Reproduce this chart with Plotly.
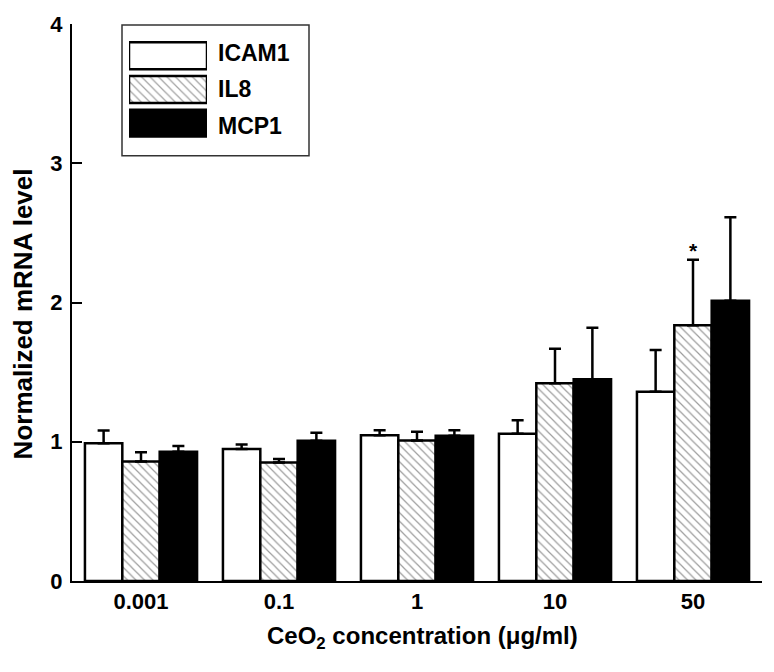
import plotly.graph_objects as go

categories = ["0.001", "0.1", "1", "10", "50"]
series_names = ["ICAM1", "IL8", "MCP1"]

icam1 = [0.99, 0.948, 1.047, 1.057, 1.359]
icam1_err = [0.09, 0.033, 0.036, 0.097, 0.30]
il8 = [0.858, 0.851, 1.009, 1.42, 1.837]
il8_err = [0.066, 0.026, 0.062, 0.247, 0.47]
mcp1 = [0.929, 1.007, 1.043, 1.449, 2.012]
mcp1_err = [0.04, 0.057, 0.04, 0.37, 0.60]

y_ticks = [0, 1, 2, 3, 4]

FONT = "Liberation Sans, Arial, Helvetica, sans-serif"

fills = ["white", "white", "black"]
patterns = ["", "\\", ""]

fig = go.Figure()
for name, vals, errs, fill, pat in zip(series_names, [icam1, il8, mcp1],
                                       [icam1_err, il8_err, mcp1_err], fills, patterns):
    fig.add_trace(go.Bar(
        x=categories, y=vals, name=name,
        marker=dict(color=fill, line=dict(color="black", width=2.5),
                    pattern=dict(shape=pat, fgcolor="#3a3a3a", size=6, solidity=0.2)),
        error_y=dict(type="data", array=errs, arrayminus=[0] * len(errs), symmetric=False,
                     color="black", thickness=2.5, width=6),
        showlegend=False,
    ))

# custom legend swatches on a separate small axis pair
fig.add_trace(go.Bar(
    x=[1, 1, 1], y=series_names, orientation="h", width=0.8,
    marker=dict(color=fills, line=dict(color="black", width=2.5),
                pattern=dict(shape=patterns, fgcolor="#3a3a3a", size=6, solidity=0.2)),
    xaxis="x2", yaxis="y2", showlegend=False, hoverinfo="skip",
))

# page body has an 8px margin; keep the figure inside the 774x672 window
PAGE = 8
W, H = 774 - 2 * PAGE, 672 - 2 * PAGE
L, R, T, B = 72 - PAGE, 4, 19 - PAGE, 83
pw, ph = W - L - R, H - T - B


def px(xp):
    return (xp - PAGE - L) / pw


def py(yp):
    return (H - B - (yp - PAGE)) / ph


annotations = []
legend_y = [48, 85, 122]
for name, yy in zip(series_names, legend_y):
    annotations.append(dict(
        x=px(216), y=py(yy), xref="paper", yref="paper", text="<b>%s</b>" % name,
        showarrow=False, xanchor="left", yanchor="middle",
        font=dict(family=FONT, size=23, color="black"),
    ))

annotations.append(dict(
    x=4, y=il8[4] + il8_err[4], xref="x", yref="y", text="<b>*</b>",
    showarrow=False, xanchor="center", yanchor="middle", yshift=9,
    font=dict(family=FONT, size=21, color="black"),
))

annotations.append(dict(
    x=px(23), y=py(312), xref="paper", yref="paper",
    text="<b>Normalized mRNA level</b>", textangle=-90, showarrow=False,
    xanchor="center", yanchor="middle",
    font=dict(family=FONT, size=26, color="black"),
))

annotations.append(dict(
    x=px(423), y=py(638), xref="paper", yref="paper",
    text="<b>CeO<sub>2</sub> concentration (μg/ml)</b>", showarrow=False,
    xanchor="center", yanchor="middle",
    font=dict(family=FONT, size=24, color="black"),
))

fig.update_layout(
    width=W, height=H,
    margin=dict(l=L, r=R, t=T, b=B, pad=0),
    paper_bgcolor="white", plot_bgcolor="white",
    barmode="group", bargap=0.1875, bargroupgap=0,
    xaxis=dict(
        type="category", range=[-0.5, 4.5], showline=True, linecolor="black", linewidth=2,
        ticks="", showgrid=False, zeroline=False,
        tickvals=categories, ticktext=["<b>%s</b>" % c for c in categories],
        tickfont=dict(family=FONT, size=22, color="black"),
    ),
    yaxis=dict(
        range=[0, 4], tickvals=y_ticks, ticktext=["<b>%d</b>" % v for v in y_ticks],
        showline=True, linecolor="black", linewidth=2,
        ticks="inside", ticklen=10, tickwidth=2, tickcolor="black",
        showgrid=False, zeroline=False, ticklabelstandoff=3,
        ticklabeloverflow="allow",
        tickfont=dict(family=FONT, size=22, color="black"),
    ),
    xaxis2=dict(domain=[px(129), px(207)], range=[0, 1], anchor="y2",
                visible=False, fixedrange=True),
    yaxis2=dict(domain=[py(136), py(34)], anchor="x2", type="category",
                autorange="reversed", visible=False, fixedrange=True),
    shapes=[dict(type="rect", xref="paper", yref="paper",
                 x0=px(122), x1=px(309), y0=py(152), y1=py(20),
                 line=dict(color="#333333", width=1.5), fillcolor="rgba(0,0,0,0)",
                 layer="below")],
    annotations=annotations,
)

fig.write_html("out.html")
